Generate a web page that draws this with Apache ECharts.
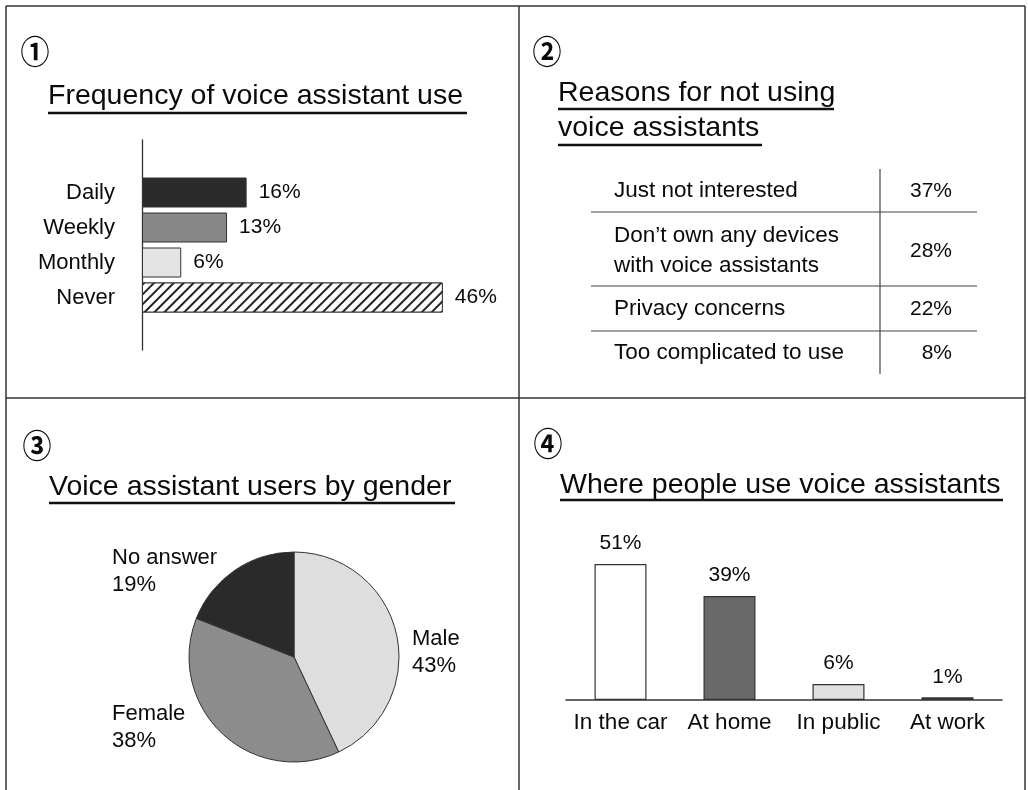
<!DOCTYPE html>
<html>
<head>
<meta charset="utf-8">
<script src="https://cdn.jsdelivr.net/npm/echarts@6/dist/echarts.min.js"></script>
<style>
html,body{margin:0;padding:0;background:#fff;}
#c{width:1028px;height:790px;}
</style>
</head>
<body>
<div id="c"></div>
<script>
// ---- data ----
const freqCategories = ['Daily', 'Weekly', 'Monthly', 'Never'];
const freqValues = [16, 13, 6, 46];

const reasonLabels = ['Just not interested', 'Don\u2019t own any devices\nwith voice assistants', 'Privacy concerns', 'Too complicated to use'];
const reasonValues = [37, 28, 22, 8];

const genderLabels = ['Male', 'Female', 'No answer'];
const genderValues = [43, 38, 19];

const placeCategories = ['In the car', 'At home', 'In public', 'At work'];
const placeValues = [51, 39, 6, 1];

const titles = [
  'Frequency of voice assistant use',
  'Reasons for not using\nvoice assistants',
  'Voice assistant users by gender',
  'Where people use voice assistants'
];
const panelNumbers = ['\u2460', '\u2461', '\u2462', '\u2463'];

// ---- styles ----
const FONT = '"Liberation Sans", Arial, Helvetica, sans-serif';
const INK = '#0a0a0a';
const freqColors = ['#2b2b2b', '#878787', '#e4e4e4', '#ffffff'];
const genderColors = ['#dedede', '#8c8c8c', '#2a2a2a'];
const placeColors = ['#ffffff', '#6a6a6a', '#e0e0e0', '#444444'];

const chart = echarts.init(document.getElementById('c'), null, {renderer: 'canvas'});

// padded categories so the axis line extends above/below the bars
const freqCatsPadded = [''].concat(freqCategories, ['']);
const freqDataPadded = [null].concat(freqValues.map((v, i) => {
  const item = {value: v, itemStyle: {color: freqColors[i], borderColor: '#333', borderWidth: 1}};
  if (freqCategories[i] === 'Never') {
    item.itemStyle.decal = {
      symbol: 'rect', symbolSize: 1,
      dashArrayX: [1, 0], dashArrayY: [1.2, 4.6],
      rotation: -Math.PI / 4, color: '#222', backgroundColor: '#ffffff'
    };
  }
  return item;
}), [null]);

// ---- decorations (frame, numbers, titles, table) ----
const graphics = [];
const frameLine = (x1, y1, x2, y2) => ({type: 'line', shape: {x1, y1, x2, y2}, style: {stroke: '#333', lineWidth: 1.5}, silent: true});
graphics.push(frameLine(6, 6, 1025, 6), frameLine(6, 6, 6, 790), frameLine(1025, 6, 1025, 790),
  frameLine(519, 6, 519, 790), frameLine(6, 398, 1025, 398));

const numPos = [[35, 51], [547, 51], [37, 445], [548, 443]];
panelNumbers.forEach((t, i) => graphics.push({
  type: 'text', x: numPos[i][0], y: numPos[i][1], scaleY: 1.15,
  style: {text: t, font: 'bold 29px "Noto Sans CJK JP", "DejaVu Sans"', fill: INK, textAlign: 'center', textVerticalAlign: 'middle'}
}));

const titlePos = [[48, 78.5], [558, 75.5], [49, 469.5], [560, 467.5]];
titles.forEach((t, i) => graphics.push({
  type: 'text', x: titlePos[i][0], y: titlePos[i][1],
  style: {text: t, font: '28.5px ' + FONT, fill: INK, textAlign: 'left', textVerticalAlign: 'top', lineHeight: 35}
}));
const ul = (x1, x2, y) => ({type: 'line', shape: {x1, y1: y, x2, y2: y}, style: {stroke: '#111', lineWidth: 2.6}, silent: true});
graphics.push(ul(48, 467, 113), ul(558, 834, 109), ul(558, 762, 145), ul(49, 455, 503), ul(560, 1003, 500));

// table of reasons
const rowCenters = [191, 251, 309, 353];
const rowLines = [212, 286, 331];
reasonLabels.forEach((t, i) => {
  graphics.push({type: 'text', x: 614, y: rowCenters[i],
    style: {text: t, font: '22.5px ' + FONT, fill: INK, textAlign: 'left', textVerticalAlign: 'middle', lineHeight: 30}});
  graphics.push({type: 'text', x: 952, y: rowCenters[i],
    style: {text: reasonValues[i] + '%', font: '21px ' + FONT, fill: INK, textAlign: 'right', textVerticalAlign: 'middle'}});
});
rowLines.forEach(y => graphics.push({type: 'line', shape: {x1: 591, y1: y, x2: 977, y2: y}, style: {stroke: '#444', lineWidth: 1.2}, silent: true}));
graphics.push({type: 'line', shape: {x1: 880, y1: 169, x2: 880, y2: 374}, style: {stroke: '#444', lineWidth: 1.2}, silent: true});

// pie label placement
const pieLabelPos = [[412, 652], [112, 727], [112, 571]];

chart.setOption({
  animation: false,
  backgroundColor: '#ffffff',
  textStyle: {fontFamily: FONT},
  graphic: graphics,
  grid: [
    {left: 142, top: 140, width: 327, height: 210, containLabel: false},
    {left: 566, top: 500, width: 436, height: 200, containLabel: false}
  ],
  xAxis: [
    {gridIndex: 0, type: 'value', min: 0, max: 50, show: false},
    {gridIndex: 1, type: 'category', data: placeCategories,
      axisLine: {show: true, lineStyle: {color: '#333', width: 1.5}},
      axisTick: {show: false},
      axisLabel: {fontSize: 22.5, color: INK, margin: 11, fontFamily: FONT, interval: 0}}
  ],
  yAxis: [
    {gridIndex: 0, type: 'category', data: freqCatsPadded, inverse: true,
      axisLine: {show: true, lineStyle: {color: '#333', width: 1.3}},
      axisTick: {show: false},
      axisLabel: {fontSize: 22, color: INK, margin: 27, fontFamily: FONT, interval: 0}},
    {gridIndex: 1, type: 'value', min: 0, max: 75, show: false}
  ],
  series: [
    {type: 'bar', xAxisIndex: 0, yAxisIndex: 0, data: freqDataPadded, barWidth: 30,
      label: {show: true, position: 'right', distance: 12, fontSize: 21, color: INK, fontFamily: FONT,
        formatter: p => p.value == null ? '' : p.value + '%'}},
    {type: 'pie', center: [294, 657], radius: 105, startAngle: 90, clockwise: true,
      data: genderLabels.map((n, i) => ({name: n, value: genderValues[i],
        itemStyle: {color: genderColors[i], borderColor: '#333', borderWidth: 1}})),
      label: {show: true, position: 'outside', formatter: '{b}\n{c}%', fontSize: 22, color: INK,
        fontFamily: FONT, lineHeight: 27, align: 'left'},
      labelLine: {show: false},
      labelLayout: p => ({x: pieLabelPos[p.dataIndex][0], y: pieLabelPos[p.dataIndex][1], align: 'left', verticalAlign: 'middle'})},
    {type: 'bar', xAxisIndex: 1, yAxisIndex: 1, barWidth: 52,
      data: placeValues.map((v, i) => ({value: v, itemStyle: {color: placeColors[i], borderColor: '#333', borderWidth: 1.2}})),
      label: {show: true, position: 'top', distance: 10, fontSize: 21, color: INK, fontFamily: FONT, formatter: '{c}%'}}
  ]
});
</script>
</body>
</html>
